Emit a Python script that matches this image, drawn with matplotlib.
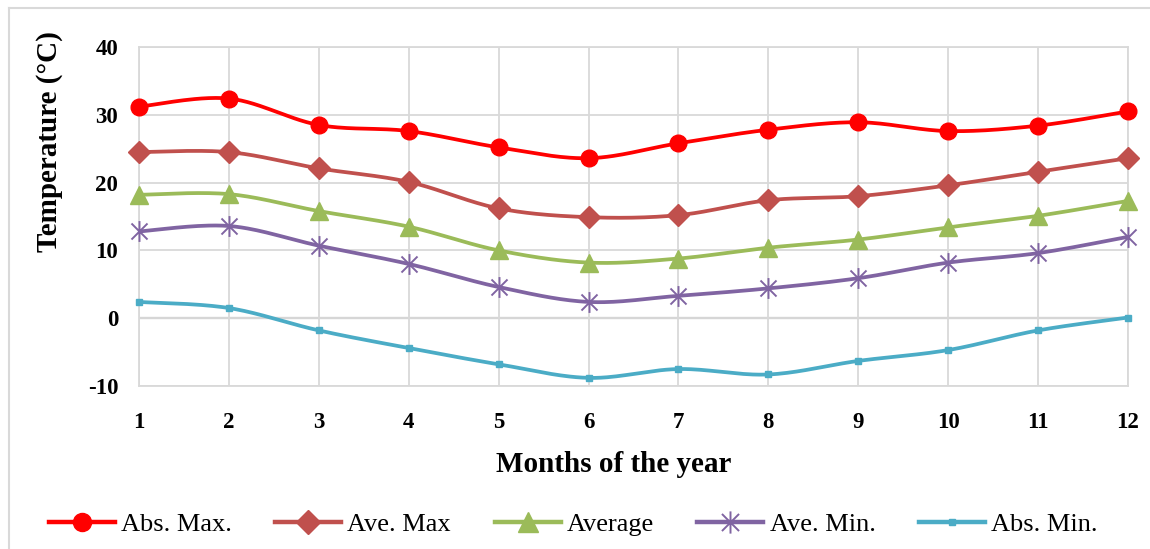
import numpy as np
import matplotlib.pyplot as plt
from matplotlib.path import Path
from matplotlib.lines import Line2D

plt.rcParams['font.family'] = ['Liberation Serif', 'DejaVu Serif']
plt.rcParams['axes.unicode_minus'] = False

# ---------- 数据 ----------
months = list(range(1, 13))
abs_max = [31.2, 32.4, 28.5, 27.6, 25.2, 23.6, 25.8, 27.8, 28.9, 27.6, 28.4, 30.5]
ave_max = [24.5, 24.5, 22.1, 20.1, 16.2, 14.9, 15.2, 17.4, 18.0, 19.6, 21.6, 23.6]
average = [18.2, 18.3, 15.8, 13.5, 10.0, 8.2, 8.8, 10.4, 11.6, 13.4, 15.1, 17.3]
ave_min = [12.8, 13.6, 10.7, 8.0, 4.6, 2.4, 3.3, 4.4, 5.9, 8.2, 9.6, 12.0]
abs_min = [2.4, 1.5, -1.8, -4.4, -6.8, -8.8, -7.5, -8.3, -6.3, -4.7, -1.8, 0.1]

series_names = ['Abs. Max.', 'Ave. Max', 'Average', 'Ave. Min.', 'Abs. Min.']

# Excel 风格的星号标记：X + 竖线
star = Path([(-1, -1), (1, 1), (-1, 1), (1, -1), (0, -1.3), (0, 1.3)],
            [Path.MOVETO, Path.LINETO, Path.MOVETO, Path.LINETO, Path.MOVETO, Path.LINETO])

styles = [
    dict(color='#FF0000', marker='o', ms=12, mfc='#FF0000', mec='#FF0000', mew=1),
    dict(color='#C0504D', marker='D', ms=11, mfc='#C0504D', mec='#C0504D', mew=1),
    dict(color='#9BBB59', marker='^', ms=13.5, mfc='#9BBB59', mec='#9BBB59', mew=1),
    dict(color='#8064A2', marker=star, ms=15, mfc='none', mec='#8064A2', mew=1.4),
    dict(color='#4BACC6', marker='s', ms=4.5, mfc='#4BACC6', mec='#4BACC6', mew=1),
]


def excel_smooth(x, y, n=30):
    """Excel 平滑线：Catmull-Rom 转 Bezier"""
    x = np.asarray(x, float)
    y = np.asarray(y, float)
    px = np.concatenate([[x[0]], x, [x[-1]]])
    py = np.concatenate([[y[0]], y, [y[-1]]])
    t = np.linspace(0, 1, n)
    xs, ys = [], []
    for i in range(1, len(px) - 2):
        p0 = np.array([px[i], py[i]])
        p3 = np.array([px[i + 1], py[i + 1]])
        c1 = p0 + (np.array([px[i + 1], py[i + 1]]) - np.array([px[i - 1], py[i - 1]])) / 6
        c2 = p3 - (np.array([px[i + 2], py[i + 2]]) - np.array([px[i], py[i]])) / 6
        b = ((1 - t) ** 3)[:, None] * p0 + (3 * (1 - t) ** 2 * t)[:, None] * c1 \
            + (3 * (1 - t) * t ** 2)[:, None] * c2 + (t ** 3)[:, None] * p3
        xs.append(b[:, 0])
        ys.append(b[:, 1])
    return np.concatenate(xs), np.concatenate(ys)


fig = plt.figure(figsize=(11.5, 5.49), dpi=100)
ax = fig.add_axes([139 / 1150, 1 - 386 / 549, (1128 - 139) / 1150, (386 - 47) / 549])

# 外框（只有左边和上边可见）
fig.add_artist(Line2D([9 / 1150, 9 / 1150], [0, 1 - 8 / 549], transform=fig.transFigure,
                      color='#D9D9D9', lw=1.5))
fig.add_artist(Line2D([9 / 1150, 1], [1 - 8 / 549, 1 - 8 / 549], transform=fig.transFigure,
                      color='#D9D9D9', lw=1.5))

all_data = [abs_max, ave_max, average, ave_min, abs_min]
for name, vals, st in zip(series_names, all_data, styles):
    sx, sy = excel_smooth(months, vals)
    ax.plot(sx, sy, color=st['color'], lw=2.7, zorder=3, solid_capstyle='round')
    ax.plot(months, vals, ls='none', marker=st['marker'], ms=st['ms'], mfc=st['mfc'],
            mec=st['mec'], mew=st['mew'], zorder=4, clip_on=False)

ax.set_xlim(1, 12)
ax.set_ylim(-10, 40)
ax.set_xticks(months)
ax.set_yticks([-10, 0, 10, 20, 30, 40])
ax.grid(True, color='#D9D9D9', lw=1.3, zorder=0)
ax.axhline(0, color='#BFBFBF', lw=1.6, zorder=1)
for sp in ax.spines.values():
    sp.set_color('#D9D9D9')
    sp.set_linewidth(1.3)
ax.tick_params(length=0, labelsize=16.5)
for lab in ax.get_xticklabels() + ax.get_yticklabels():
    lab.set_fontweight('bold')
ax.tick_params(axis='y', pad=15)
ax.tick_params(axis='x', pad=19)

ax.set_xlabel('Months of the year', fontsize=21, fontweight='bold')
ax.set_ylabel('Temperature (°C)', fontsize=21, fontweight='bold')
ax.xaxis.set_label_coords(0.48, -0.233)
ax.xaxis.label.set_va('center')
ax.yaxis.set_label_coords(-0.09, 0.72)
ax.yaxis.label.set_va('center')

leg_ms = [13, 12, 14.5, 16, 5]
handles = [Line2D([0], [0], color=st['color'], lw=3.2, marker=st['marker'], ms=m,
                  mfc=st['mfc'], mec=st['mec'], mew=st['mew']) for st, m in zip(styles, leg_ms)]
fig.legend(handles, series_names, loc='center left', bbox_to_anchor=(49 / 1150, 1 - 524 / 549),
           ncol=5, frameon=False, fontsize=19, handlelength=2.5, handletextpad=0.23,
           columnspacing=1.65, borderpad=0, borderaxespad=0)

fig.savefig('out.png', dpi=100)
